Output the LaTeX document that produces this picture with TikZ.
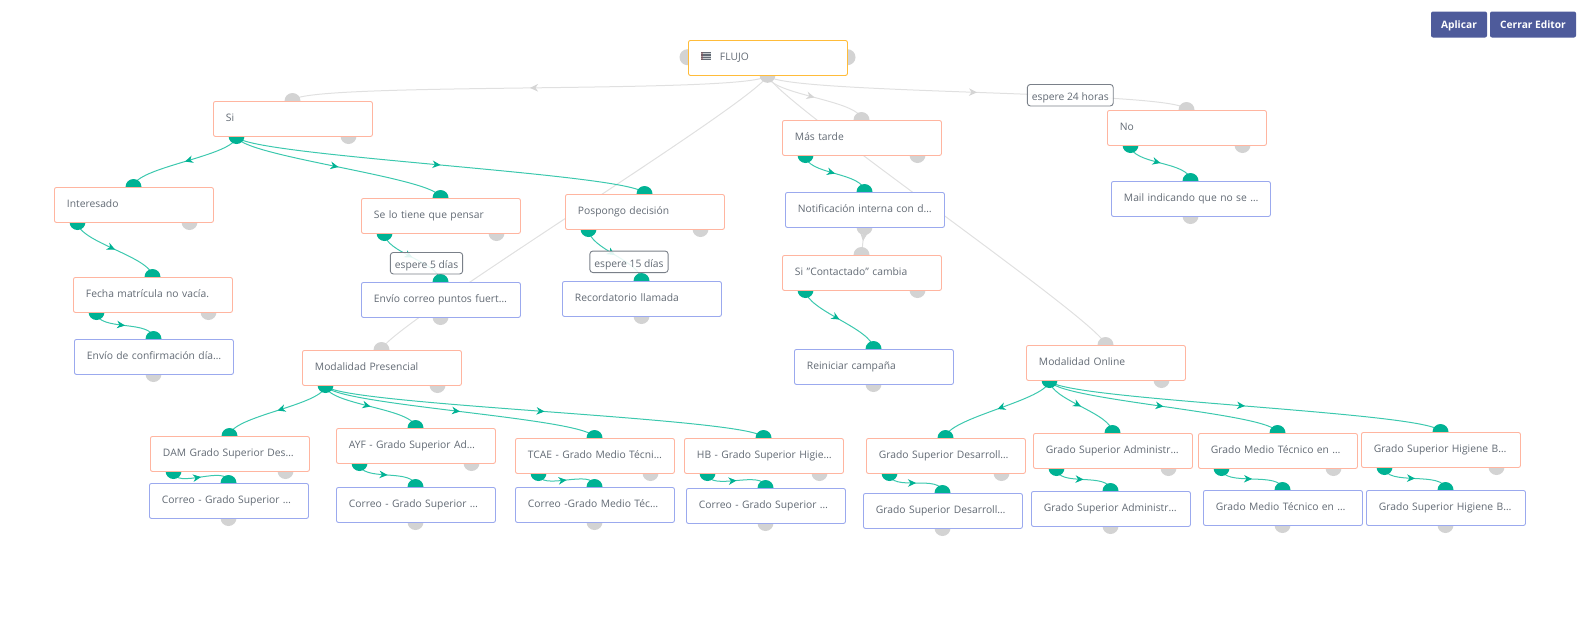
\documentclass[tikz,border=0pt]{standalone}
\usepackage{fontspec}
\setmainfont{Open Sans}
\usetikzlibrary{calc,arrows.meta,decorations.markings}
\definecolor{portteal}{HTML}{00B294}
\definecolor{linkteal}{HTML}{3CC8AE}
\definecolor{portgray}{HTML}{D3D3D3}
\definecolor{linkgray}{HTML}{E0E0E0}
\definecolor{condline}{HTML}{FFB5A0}
\definecolor{actline}{HTML}{9BA9EE}
\definecolor{rootline}{HTML}{FFBC3A}
\definecolor{textgray}{HTML}{626A74}
\definecolor{btnblue}{HTML}{4E5B9B}
\pgfdeclarelayer{back}
\pgfsetlayers{back,main}
\begin{document}
\begin{tikzpicture}[x=1pt,y=-1pt,font=\fontsize{10.3}{12}\selectfont,
    greenport/.style={circle,fill=portteal,minimum size=16pt,inner sep=0pt},
    greyport/.style={circle,fill=portgray,minimum size=16pt,inner sep=0pt},
    flowbox/.style={draw,fill=white,rounded corners=2pt,line width=.9pt,anchor=north west,
        minimum width=159pt,minimum height=35pt,inner xsep=12.5pt,inner ysep=0pt,
        text width=134pt,align=left,text height=9pt,text depth=3pt,text=textgray},
    waitlabel/.style={draw=textgray!85,fill=white,fill opacity=.88,text opacity=1,rounded corners=3pt,
        line width=.9pt,inner xsep=4.5pt,inner ysep=0pt,minimum height=21.5pt,
        text height=12pt,text depth=1.2pt,text=textgray},
    button/.style={fill=btnblue,rounded corners=2pt,text=white,inner sep=0pt,
        minimum height=26pt,text height=9pt,text depth=1pt,font=\fontsize{10.2}{11}\selectfont\bfseries},
    greenlink/.style={draw=linkteal,line width=1pt,postaction={decorate},decoration={markings,
        mark=at position .5 with {\arrow[portteal]{Stealth[length=8pt,width=7.5pt,inset=2.5pt]}}}},
    greylink/.style={draw=linkgray,line width=1pt,postaction={decorate},decoration={markings,
        mark=at position .5 with {\arrow[linkgray!95!black]{Stealth[length=8pt,width=7.5pt,inset=2.5pt]}}}}
    ]

    \useasboundingbox (0,0) rectangle (1584,633);

    %#1 name, #2 x, #3 y, #4 style of top port, #5 text
    \def\condbox#1#2#3#4#5{
        \node[#4] (#1-in) at (#2+79.5,#3) {};
        \node[greenport] (#1-yes) at (#2+23.5,#3+35) {};
        \node[greyport] (#1-not) at (#2+135.5,#3+35) {};
        \node[flowbox,draw=condline] (#1) at (#2,#3) {\mbox{#5}};
    }
    \def\actbox#1#2#3#4#5{
        \node[#4] (#1-in) at (#2+79.5,#3) {};
        \node[greyport] (#1-out) at (#2+79.5,#3+35) {};
        \node[flowbox,draw=actline] (#1) at (#2,#3) {\mbox{#5}};
    }
    \def\flowlink#1#2#3{
        \draw[#1] (#2.center) .. controls ($(#2.center)+(0,20)$) and ($(#3.center)-(0,20)$) .. (#3.center);
    }

    \begin{scope}[xshift=-.5pt,yshift=.5pt]

    %root:
    \node[greyport] (flujo-left) at (688,57.7) {};
    \node[greyport] (flujo-right) at (848,57.7) {};
    \node[greyport] (flujo-out) at (768,75.3) {};
    \node[flowbox,draw=rootline,inner xsep=31.5pt,text width=96pt] (flujo) at (688.5,40.5) {FLUJO};
    \fill[textgray!35] (701,52.3) rectangle (711,60.2);
    \foreach \ylin in {52.3,54,55.7,57.4,59.1}
        \fill[textgray] (701,\ylin) rectangle (711,\ylin+1);
    \fill[textgray!75!red,opacity=.5] (701,52.3) rectangle (703,60.2);

    %first branch:
    \condbox{si}{213.5}{101.5}{greyport}{Si}
    \condbox{interesado}{54.5}{187.5}{greenport}{Interesado}
    \condbox{fecha}{73.5}{277.5}{greenport}{Fecha matrícula no vacía.}
    \actbox{confirma}{74.5}{339.5}{greenport}{Envío de confirmación día…}
    \condbox{pensar}{361.5}{198.5}{greenport}{Se lo tiene que pensar}
    \actbox{puntos}{361.5}{282.5}{greenport}{Envío correo puntos fuert…}
    \condbox{pospongo}{565.5}{194.5}{greenport}{Pospongo decisión}
    \actbox{llamada}{562.5}{281.5}{greenport}{Recordatorio llamada}

    %later and no:
    \condbox{tarde}{782.5}{120.5}{greyport}{Más tarde}
    \actbox{notifica}{785.5}{192.5}{greenport}{Notificación interna con d…}
    \condbox{contacto}{782.5}{255.5}{greyport}{Si "Contactado" cambia}
    \actbox{reinicia}{794.5}{349.5}{greenport}{Reiniciar campaña}
    \condbox{no}{1107.5}{110.5}{greyport}{No}
    \actbox{mail}{1111.5}{181.5}{greenport}{Mail indicando que no se …}

    %presencial:
    \condbox{presencial}{302.5}{350.5}{greyport}{Modalidad Presencial}
    \condbox{dam}{150.5}{436.5}{greenport}{DAM Grado Superior Des…}
    \actbox{damcorreo}{149.5}{483.5}{greenport}{Correo - Grado Superior …}
    \condbox{ayf}{336.5}{428.5}{greenport}{AYF - Grado Superior Ad…}
    \actbox{ayfcorreo}{336.5}{487.5}{greenport}{Correo - Grado Superior …}
    \condbox{tcae}{515.5}{438.5}{greenport}{TCAE - Grado Medio Técni…}
    \actbox{tcaecorreo}{515.5}{487.5}{greenport}{Correo -Grado Medio Téc…}
    \condbox{hb}{684.5}{438.5}{greenport}{HB - Grado Superior Higie…}
    \actbox{hbcorreo}{686.5}{488.5}{greenport}{Correo - Grado Superior …}

    %online:
    \condbox{online}{1026.5}{345.5}{greyport}{Modalidad Online}
    \condbox{desarrollo}{866.5}{438.5}{greenport}{Grado Superior Desarroll…}
    \actbox{desarrollob}{863.5}{493.5}{greenport}{Grado Superior Desarroll…}
    \condbox{admin}{1033.5}{433.5}{greenport}{Grado Superior Administr…}
    \actbox{adminb}{1031.5}{491.5}{greenport}{Grado Superior Administr…}
    \condbox{medio}{1198.5}{433.5}{greenport}{Grado Medio Técnico en …}
    \actbox{mediob}{1203.5}{490.5}{greenport}{Grado Medio Técnico en …}
    \condbox{higiene}{1361.5}{432.5}{greenport}{Grado Superior Higiene B…}
    \actbox{higieneb}{1366.5}{490.5}{greenport}{Grado Superior Higiene B…}

    %links go behind everything:
    \begin{pgfonlayer}{back}
        \flowlink{greylink}{flujo-out}{si-in}
        \flowlink{greylink}{flujo-out}{tarde-in}
        \flowlink{greylink}{flujo-out}{no-in}
        \flowlink{greylink}{flujo-out}{presencial-in}
        \flowlink{greylink}{flujo-out}{online-in}
        \draw[greylink] (notifica-out.center) -- (contacto-in.center);
        \flowlink{greenlink}{si-yes}{interesado-in}
        \flowlink{greenlink}{si-yes}{pensar-in}
        \flowlink{greenlink}{si-yes}{pospongo-in}
        \flowlink{greenlink}{interesado-yes}{fecha-in}
        \flowlink{greenlink}{fecha-yes}{confirma-in}
        \flowlink{greenlink}{pensar-yes}{puntos-in}
        \flowlink{greenlink}{pospongo-yes}{llamada-in}
        \flowlink{greenlink}{tarde-yes}{notifica-in}
        \flowlink{greenlink}{contacto-yes}{reinicia-in}
        \flowlink{greenlink}{no-yes}{mail-in}
        \flowlink{greenlink}{presencial-yes}{dam-in}
        \flowlink{greenlink}{presencial-yes}{ayf-in}
        \flowlink{greenlink}{presencial-yes}{tcae-in}
        \flowlink{greenlink}{presencial-yes}{hb-in}
        \flowlink{greenlink}{dam-yes}{damcorreo-in}
        \flowlink{greenlink}{ayf-yes}{ayfcorreo-in}
        \flowlink{greenlink}{tcae-yes}{tcaecorreo-in}
        \flowlink{greenlink}{hb-yes}{hbcorreo-in}
        \flowlink{greenlink}{online-yes}{desarrollo-in}
        \flowlink{greenlink}{online-yes}{admin-in}
        \flowlink{greenlink}{online-yes}{medio-in}
        \flowlink{greenlink}{online-yes}{higiene-in}
        \flowlink{greenlink}{desarrollo-yes}{desarrollob-in}
        \flowlink{greenlink}{admin-yes}{adminb-in}
        \flowlink{greenlink}{medio-yes}{mediob-in}
        \flowlink{greenlink}{higiene-yes}{higieneb-in}
    \end{pgfonlayer}

    %wait labels:
    \node[waitlabel] (waitday) at (1070.8,95.7) {espere 24 horas};
    \node[waitlabel] (waitfive) at (427,263.7) {espere 5 días};
    \node[waitlabel] (waitfifteen) at (629.5,262.3) {espere 15 días};

    %buttons:
    \node[button,minimum width=56pt] (aplicar) at (1459.5,25) {Aplicar};
    \node[button,minimum width=86pt] (cerrar) at (1533.5,25) {Cerrar Editor};

    \end{scope}

\end{tikzpicture}
\end{document}
